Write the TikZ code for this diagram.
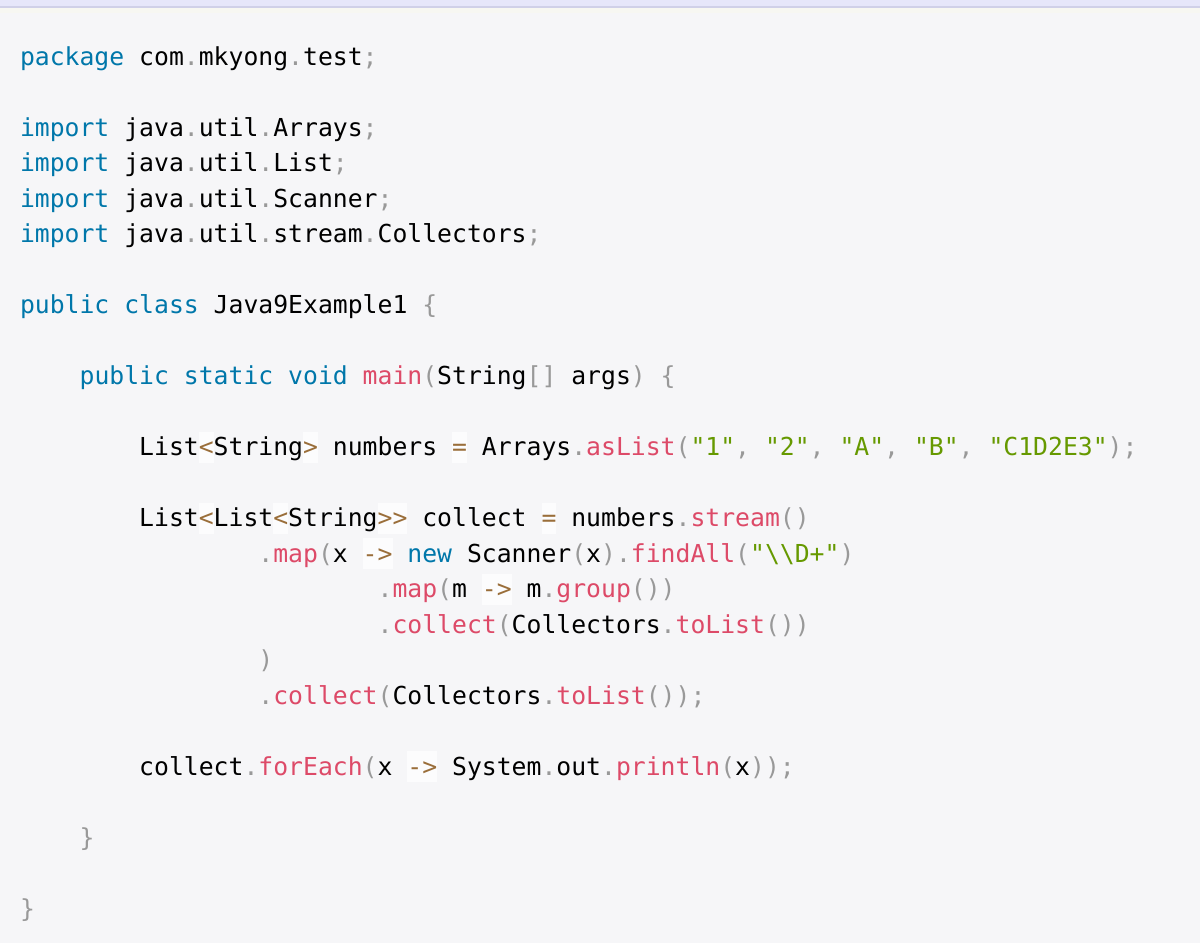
\documentclass[tikz,border=0pt]{standalone}
\usepackage{fontspec}
\newfontfamily\codefont{DejaVu Sans Mono}
\definecolor{bgc}{HTML}{F6F6F8}
\definecolor{topc}{HTML}{E6E6FA}
\definecolor{topline}{HTML}{D0D0E8}
\definecolor{topband}{HTML}{F7F7F2}
\definecolor{kwc}{HTML}{0077AA}
\definecolor{fnc}{HTML}{DD4A68}
\definecolor{stc}{HTML}{669900}
\definecolor{puc}{HTML}{999999}
\definecolor{opc}{HTML}{9A6E3A}
\definecolor{opbg}{HTML}{FCFCFD}
\newcommand\kw[1]{\textcolor{kwc}{#1}}
\newcommand\fn[1]{\textcolor{fnc}{#1}}
\newcommand\st[1]{\textcolor{stc}{#1}}
\newcommand\pu[1]{\textcolor{puc}{#1}}
\newcommand\op[1]{\setbox0\hbox{#1}\rlap{\color{opbg}\rule[-0.3em]{\wd0}{1.25em}}\textcolor{opc}{#1}}
\tikzset{
  codeline/.style={anchor=base west, inner sep=0pt, outer sep=0pt,
    font=\codefont\fontsize{24.75}{30}\selectfont, text=black}
}
\newcommand\lx[1]{20+14.9*#1}
\newcommand\ly[1]{-(65+35.5*#1)}
\begin{document}
\begin{tikzpicture}[x=1pt,y=1pt]
\useasboundingbox (0,0) rectangle (1200,-943);
\fill[bgc] (0,0) rectangle (1200,-943);
\fill[topc] (0,0) rectangle (1200,-6);
\fill[topline] (0,-6) rectangle (1200,-8);
\fill[topband] (0,-8) rectangle (1200,-13);

\node[codeline] (l0) at ({\lx{0}},{\ly{0}}) {\kw{package} com\pu{.}mkyong\pu{.}test\pu{;}};
\node[codeline] (l2) at ({\lx{0}},{\ly{2}}) {\kw{import} java\pu{.}util\pu{.}Arrays\pu{;}};
\node[codeline] (l3) at ({\lx{0}},{\ly{3}}) {\kw{import} java\pu{.}util\pu{.}List\pu{;}};
\node[codeline] (l4) at ({\lx{0}},{\ly{4}}) {\kw{import} java\pu{.}util\pu{.}Scanner\pu{;}};
\node[codeline] (l5) at ({\lx{0}},{\ly{5}}) {\kw{import} java\pu{.}util\pu{.}stream\pu{.}Collectors\pu{;}};
\node[codeline] (l7) at ({\lx{0}},{\ly{7}}) {\kw{public} \kw{class} Java9Example1 \pu{\{}};
\node[codeline] (l9) at ({\lx{4}},{\ly{9}}) {\kw{public} \kw{static} \kw{void} \fn{main}\pu{(}String\pu{[]} args\pu{)} \pu{\{}};
\node[codeline] (l11) at ({\lx{8}},{\ly{11}}) {List\op{<}String\op{>} numbers \op{=} Arrays\pu{.}\fn{asList}\pu{(}\st{"1"}\pu{,} \st{"2"}\pu{,} \st{"A"}\pu{,} \st{"B"}\pu{,} \st{"C1D2E3"}\pu{);}};
\node[codeline] (l13) at ({\lx{8}},{\ly{13}}) {List\op{<}List\op{<}String\op{>>} collect \op{=} numbers\pu{.}\fn{stream}\pu{()}};
\node[codeline] (l14) at ({\lx{16}},{\ly{14}}) {\pu{.}\fn{map}\pu{(}x \op{->} \kw{new} Scanner\pu{(}x\pu{).}\fn{findAll}\pu{(}\st{"\textbackslash\textbackslash D+"}\pu{)}};
\node[codeline] (l15) at ({\lx{24}},{\ly{15}}) {\pu{.}\fn{map}\pu{(}m \op{->} m\pu{.}\fn{group}\pu{())}};
\node[codeline] (l16) at ({\lx{24}},{\ly{16}}) {\pu{.}\fn{collect}\pu{(}Collectors\pu{.}\fn{toList}\pu{())}};
\node[codeline] (l17) at ({\lx{16}},{\ly{17}}) {\pu{)}};
\node[codeline] (l18) at ({\lx{16}},{\ly{18}}) {\pu{.}\fn{collect}\pu{(}Collectors\pu{.}\fn{toList}\pu{());}};
\node[codeline] (l20) at ({\lx{8}},{\ly{20}}) {collect\pu{.}\fn{forEach}\pu{(}x \op{->} System\pu{.}out\pu{.}\fn{println}\pu{(}x\pu{));}};
\node[codeline] (l22) at ({\lx{4}},{\ly{22}}) {\pu{\}}};
\node[codeline] (l24) at ({\lx{0}},{\ly{24}}) {\pu{\}}};
\end{tikzpicture}
\end{document}
